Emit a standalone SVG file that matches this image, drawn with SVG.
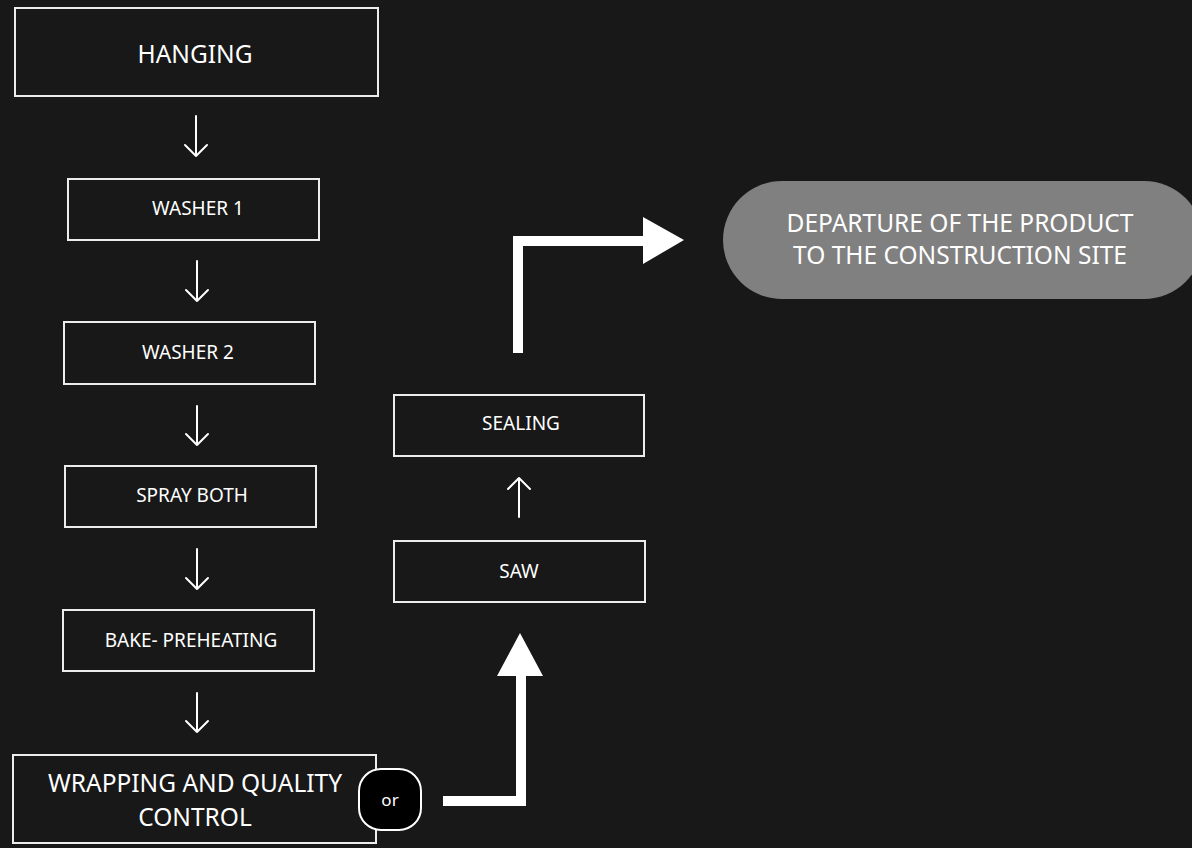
<svg xmlns="http://www.w3.org/2000/svg" width="1192" height="848" viewBox="0 0 1192 848">
<style>
.box{fill:#181818;stroke:#ececec;stroke-width:2}
.t{font-family:"Noto Sans","DejaVu Sans",sans-serif;fill:#ffffff;text-anchor:middle}
.l{font-size:24.5px}
.s{font-size:19px}
.thin{fill:none;stroke:#ffffff;stroke-width:2;stroke-linecap:round;stroke-linejoin:round}
.thick{fill:#ffffff}
</style>
<rect x="0" y="0" width="1192" height="848" fill="#181818"/>
<g id="connectors">
<path class="thin" d="M196 116V156M185 145L196 156L207 145"/>
<path class="thin" d="M197 261V301M186 290L197 301L208 290"/>
<path class="thin" d="M197 406V445M186 434L197 445L208 434"/>
<path class="thin" d="M197 549V589M186 578L197 589L208 578"/>
<path class="thin" d="M197 693V732M186 721L197 732L208 721"/>
<path class="thin" d="M519 517V478M508 489L519 478L530 489"/>
<polygon class="thick" points="443,796 516,796 516,676 497,676 520,633 543,676 526,676 526,806 443,806"/>
<polygon class="thick" points="513,353 513,236 643,236 643,217 684,240 643,264 643,246 523,246 523,353"/>
</g>
<g id="hanging"><rect class="box" x="15" y="8" width="363" height="88"/><text class="t l" x="195" y="63">HANGING</text></g>
<g id="washer1"><rect class="box" x="68" y="179" width="251" height="61"/><text class="t s" x="198" y="215">WASHER 1</text></g>
<g id="washer2"><rect class="box" x="64" y="322" width="251" height="62"/><text class="t s" x="188" y="359">WASHER 2</text></g>
<g id="spray"><rect class="box" x="65" y="466" width="251" height="61"/><text class="t s" x="192" y="502">SPRAY BOTH</text></g>
<g id="bake"><rect class="box" x="63" y="610" width="251" height="61"/><text class="t s" x="191" y="647">BAKE- PREHEATING</text></g>
<g id="wrapping"><rect class="box" x="13" y="755" width="363" height="88"/><text class="t l" x="195" y="792">WRAPPING AND QUALITY</text><text class="t l" x="195" y="826">CONTROL</text></g>
<g id="or"><rect x="359" y="769" width="62" height="61" rx="22" fill="#000000" stroke="#ffffff" stroke-width="2"/><text class="t s" x="390" y="806" style="font-size:17px">or</text></g>
<g id="saw"><rect class="box" x="394" y="541" width="251" height="61"/><text class="t s" x="519" y="578">SAW</text></g>
<g id="sealing"><rect class="box" x="394" y="395" width="250" height="61"/><text class="t s" x="521" y="430">SEALING</text></g>
<g id="departure"><rect x="723" y="181" width="480" height="118" rx="59" fill="#808080"/><text class="t l" x="960" y="232">DEPARTURE OF THE PRODUCT</text><text class="t l" x="960" y="264">TO THE CONSTRUCTION SITE</text></g>
</svg>
